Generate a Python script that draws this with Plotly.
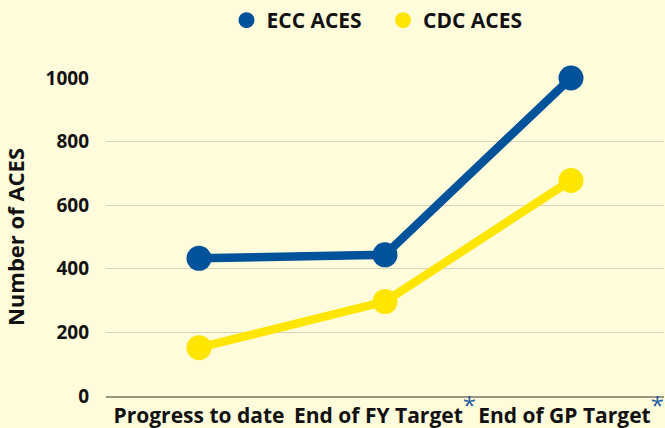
import plotly.graph_objects as go

categories = ["Progress to date", "End of FY Target", "End of GP Target"]
tick_labels = [
    "Progress to date",
    "End of FY Target<sup><span style='color:#1F5FA0;font-weight:normal;font-size:24px'>*</span></sup>",
    "End of GP Target<sup><span style='color:#1F5FA0;font-weight:normal;font-size:24px'>*</span></sup>",
]
ecc_aces = [433, 444, 1000]
cdc_aces = [152, 297, 678]
y_ticks = [0, 200, 400, 600, 800, 1000]

BLUE = "#00529B"
YELLOW = "#FFE600"
BG = "#FFFCDC"
FONT = "Open Sans"

fig = go.Figure()
for name, vals, col in [("ECC ACES", ecc_aces, BLUE), ("CDC ACES", cdc_aces, YELLOW)]:
    fig.add_trace(go.Scatter(
        x=categories, y=vals, mode="lines+markers", name=name, showlegend=False,
        line=dict(color=col, width=8.5), marker=dict(color=col, size=25),
        cliponaxis=False,
    ))
for name, col in [("ECC ACES", BLUE), ("CDC ACES", YELLOW)]:
    fig.add_trace(go.Scatter(
        x=[None], y=[None], mode="markers", name=name + "   ",
        marker=dict(color=col, size=22),
    ))

fig.update_layout(
    width=665, height=428,
    paper_bgcolor=BG, plot_bgcolor=BG,
    margin=dict(l=106, r=1, t=77, b=32),
    font=dict(family=FONT, color="#111111", size=16),
    legend=dict(orientation="h", x=0.5, xanchor="center", y=1.179, yanchor="middle",
                font=dict(family=FONT, size=21, weight="bold"), itemwidth=30,
                bgcolor="rgba(0,0,0,0)"),
    showlegend=True,
)
fig.update_xaxes(
    type="category", range=[-0.5, 2.5], tickvals=categories, ticktext=tick_labels,
    tickfont=dict(family=FONT, size=21, weight="bold", color="#111111"),
    showgrid=False, showline=True, linecolor="#9A9680", linewidth=1.5,
    ticks="", zeroline=False, automargin=False,
)
fig.update_yaxes(
    range=[0, 1000], tickvals=y_ticks,
    tickfont=dict(family=FONT, size=19, weight="bold", color="#111111"),
    showgrid=True, gridcolor="#D8D3BC", gridwidth=1,
    zeroline=False, showline=False, ticklabelstandoff=16, automargin=False,
    title=dict(text="Number of ACES", standoff=14,
               font=dict(family=FONT, size=22, weight="bold", color="#111111")),
)
fig.write_html(
    "out.html",
    config={"displayModeBar": False},
    post_script="document.body.style.margin='0';document.body.style.background='%s';" % BG,
)
